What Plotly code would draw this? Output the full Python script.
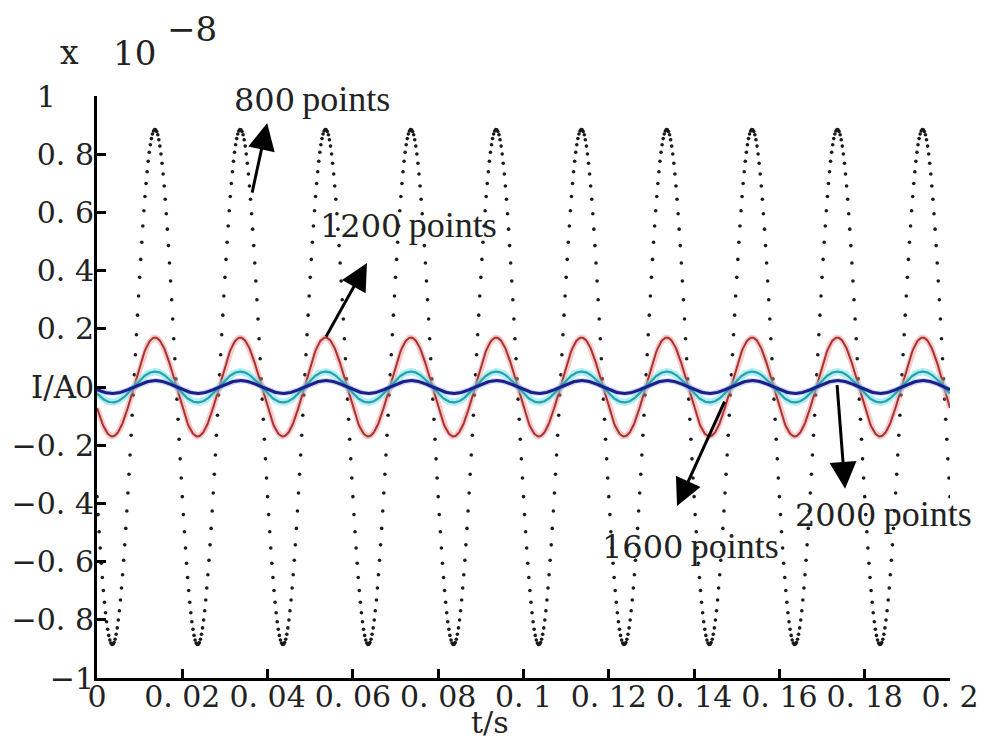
import numpy as np
import plotly.graph_objects as go

# ---------------- data ----------------
series_labels = ["800", "1200", "1600", "2000"]          # sample counts shown in the labels
sample_counts = [800, 1200, 1600, 2000]
peak_amplitudes = [0.885, 0.170, 0.053, 0.022]            # current amplitude, x 1e-8 A
signal_frequency_hz = 50                                  # 10 periods in 0.2 s
first_peak_time_s = 0.0136                                # time of first positive peak
time_span_s = [0.0, 0.2]

x_tick_values = [0, 0.02, 0.04, 0.06, 0.08, 0.1, 0.12, 0.14, 0.16, 0.18, 0.2]
x_tick_labels = ["0", "0. 02", "0. 04", "0. 06", "0. 08", "0. 1",
                 "0. 12", "0. 14", "0. 16", "0. 18", "0. 2"]
y_tick_values = [-1, -0.8, -0.6, -0.4, -0.2, 0, 0.2, 0.4, 0.6, 0.8, 1]
y_tick_labels = ["\u22121", "\u22120. 8", "\u22120. 6", "\u22120. 4", "\u22120. 2", "0",
                 "0. 2", "0. 4", "0. 6", "0. 8", "1\u00a0\u00a0\u00a0\u00a0"]

# ---------------- build sampled waveforms ----------------
def sampled_wave(n, amp):
    t = np.linspace(time_span_s[0], time_span_s[1], n + 1)
    y = amp * np.cos(2 * np.pi * signal_frequency_hz * (t - first_peak_time_s))
    return t, y

SERIF = "DejaVu Serif"
TXT = "#222"
fig = go.Figure()

# 800 points: black sample dots
t0, y0 = sampled_wave(sample_counts[0], peak_amplitudes[0])
fig.add_trace(go.Scatter(x=t0, y=y0, mode="markers",
                         marker=dict(size=3.6, color="#1a1a1a"),
                         hoverinfo="skip", showlegend=False))

line_styles = [
    None,
    (("rgba(240,140,140,0.45)", 6), ("#a83232", 2.0)),
    (("rgba(110,225,240,0.55)", 7), ("#2f9fa6", 2.2)),
    (("rgba(90,110,220,0.30)", 5), ("#1c1f8a", 3.0)),
]
for i in range(1, 4):
    t, y = sampled_wave(sample_counts[i], peak_amplitudes[i])
    for col, w in line_styles[i]:
        fig.add_trace(go.Scatter(x=t, y=y, mode="lines",
                                 line=dict(color=col, width=w),
                                 hoverinfo="skip", showlegend=False))

# ---------------- annotations ----------------
ann = []
# arrows: (tip x, tip y, tail x, tail y)
arrows = [
    (0.0399, 0.907, 0.0363, 0.663),
    (0.0633, 0.426, 0.0535, 0.168),
    (0.1360, -0.409, 0.1473, -0.045),
    (0.1754, -0.350, 0.1735, 0.012),
]
for (x, y, ax, ay) in arrows:
    ann.append(dict(x=x, y=y, ax=ax, ay=ay, xref="x", yref="y", axref="x", ayref="y",
                    text="", showarrow=True, arrowhead=2, arrowsize=1.8,
                    arrowwidth=3, arrowcolor="black", standoff=0, startstandoff=0))

label_pos = [(0.0317, 0.990), (0.0518, 0.555), (0.1179, -0.545), (0.1632, -0.435)]
for lab, (x, y) in zip(series_labels, label_pos):
    ann.append(dict(x=x, y=y, xref="x", yref="y", xanchor="left", yanchor="middle",
                    showarrow=False,
                    text=lab + "<span style='font-family:Liberation Serif;font-size:36px'>\u2009points</span>",
                    font=dict(family=SERIF, size=32, color=TXT)))

# axis titles and exponent
ann.append(dict(x=-0.0215, y=0, xref="paper", yref="y", xanchor="right", yanchor="middle",
                showarrow=False, text="I/A", font=dict(family=SERIF, size=31, color=TXT)))
ann.append(dict(x=0.0921, y=-0.076, xref="x", yref="paper", xanchor="center", yanchor="middle",
                showarrow=False, text="t/s", font=dict(family=SERIF, size=30, color=TXT)))
ann.append(dict(x=-0.032, y=1.074, xref="paper", yref="paper", xanchor="center", yanchor="middle",
                showarrow=False, text="x", font=dict(family=SERIF, size=33, color=TXT)))
ann.append(dict(x=0.044, y=1.074, xref="paper", yref="paper", xanchor="center", yanchor="middle",
                showarrow=False, text="10", font=dict(family=SERIF, size=34, color=TXT)))
ann.append(dict(x=0.111, y=1.115, xref="paper", yref="paper", xanchor="center", yanchor="middle",
                showarrow=False, text="\u22128", font=dict(family=SERIF, size=34, color=TXT)))

axis_common = dict(showline=True, linewidth=3, linecolor="black", mirror=False,
                   ticks="inside", ticklen=9, tickwidth=2.5, tickcolor="black",
                   showgrid=False, zeroline=False, automargin=False,
                   tickfont=dict(family=SERIF, size=30, color=TXT))

fig.update_layout(
    width=990, height=743,
    margin=dict(l=97, r=40, t=96, b=65),
    paper_bgcolor="white", plot_bgcolor="white",
    xaxis=dict(range=time_span_s, tickmode="array", tickvals=x_tick_values,
               ticktext=x_tick_labels, tickangle=0, ticklabelstandoff=-10, **axis_common),
    yaxis=dict(range=[-1, 1], tickmode="array", tickvals=y_tick_values,
               ticktext=y_tick_labels, ticklabelstandoff=-6, **axis_common),
    annotations=ann,
    showlegend=False,
)

fig.write_html("out.html")
